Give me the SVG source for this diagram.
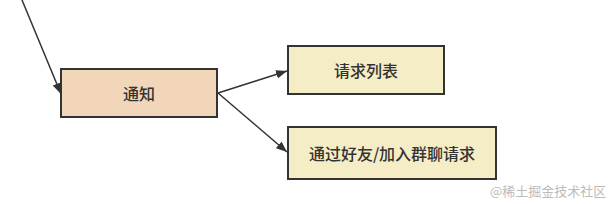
<svg xmlns="http://www.w3.org/2000/svg" width="610" height="204" viewBox="0 0 610 204">
<style>
.box{stroke:#333;stroke-width:2}
.t{font-family:"Noto Sans CJK SC","Liberation Sans",sans-serif;font-size:16px;font-weight:500;fill:#333;text-anchor:middle;dominant-baseline:central}
.c{stroke:#333;stroke-width:1.5;fill:none;marker-end:url(#ah)}
</style>
<defs>
<marker id="ah" viewBox="0 0 10 10" refX="10" refY="5" markerWidth="11" markerHeight="11" orient="auto" markerUnits="userSpaceOnUse">
<path d="M0,1 L10,5 L0,9 Z" fill="#333"/>
</marker>
</defs>
<g id="connectors">
<path class="c" d="M22,0 L61,94"/>
<path class="c" d="M218,93 L287,71"/>
<path class="c" d="M218,93 L287,152"/>
</g>
<g id="n1">
<rect class="box" x="61" y="69" width="156" height="48" fill="#F2D6B9"/>
<text class="t" x="139" y="93">通知</text>
</g>
<g id="n2">
<rect class="box" x="288" y="46" width="156" height="48" fill="#F5EDC5"/>
<text class="t" x="366" y="70">请求列表</text>
</g>
<g id="n3">
<rect class="box" x="288" y="127" width="208" height="52" fill="#F5EDC5"/>
<text class="t" x="392" y="153">通过好友/加入群聊请求</text>
</g>
<text x="490" y="196" style="font-family:'Noto Sans CJK SC',sans-serif;font-size:13px;fill:#bbb">@稀土掘金技术社区</text>
</svg>
